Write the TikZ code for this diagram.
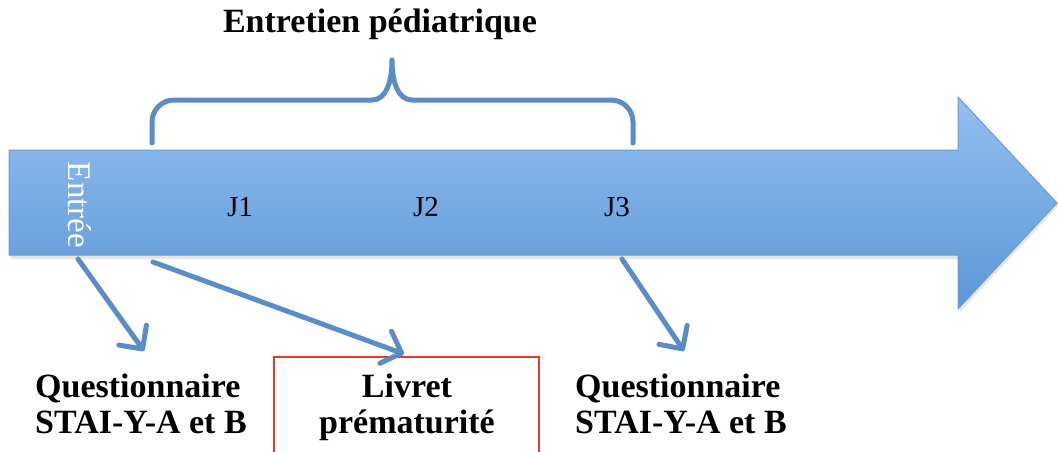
\documentclass[tikz,border=0pt]{standalone}
\usepackage{fontspec}
\setmainfont{Liberation Serif}
\usetikzlibrary{arrows.meta}
\definecolor{bluetop}{RGB}{148,191,241}
\definecolor{bluebot}{RGB}{92,151,215}
\definecolor{blueedge}{RGB}{110,155,208}
\definecolor{blueline}{RGB}{90,141,199}
\definecolor{redbox}{RGB}{232,58,37}
\tikzset{
  lbl/.style={inner sep=0pt, font=\fontsize{34}{38}\selectfont\bfseries},
  day/.style={inner sep=0pt, font=\fontsize{29}{32}\selectfont},
  conn/.style={draw=blueline, line width=5pt, line cap=round,
    -{Straight Barb[length=17pt,width=34pt,line cap=round,round]}},
  bracket/.style={draw=blueline, line width=5pt, line cap=round, line join=round},
}
\begin{document}
\begin{tikzpicture}[x=1pt,y=-1pt]
\useasboundingbox (0,0) rectangle (1058,452);
% shadow
\fill[black, opacity=0.10] (11,153) -- (960,153) -- (960,100) -- (1058,206) -- (960,312) -- (960,259) -- (11,259) -- cycle;
% timeline arrow
\path[draw=blueedge, line width=1pt, top color=bluetop, bottom color=bluebot]
  (9,150) -- (958,150) -- (958,97) -- (1057,203) -- (958,309) -- (958,255) -- (9,255) -- cycle;
% bracket
\draw[bracket] (152,143) -- (152,122) arc[start angle=180, end angle=270, radius=22] -- (372,100)
  .. controls (386,100) and (392,82) .. (392,60)
  .. controls (392,82) and (398,100) .. (412,100) -- (611,100)
  arc[start angle=270, end angle=360, radius=22] -- (633,143);
% texts
\node[lbl, anchor=base] (title) at (380,33) {Entretien pédiatrique};
\node[inner sep=0pt, font=\fontsize{33}{36}\selectfont, text=white, rotate=-90] (entree) at (80,205) {Entrée};
\node[day, anchor=base] (j1) at (240,216) {J1};
\node[day, anchor=base] (j2) at (426,216) {J2};
\node[day, anchor=base] (j3) at (617,216) {J3};
\node[lbl, anchor=base west] (q1a) at (35,397) {Questionnaire};
\node[lbl, anchor=base west] (q1b) at (35,433) {STAI-Y-A et B};
\node[lbl, anchor=base] (l1) at (407,397) {Livret};
\node[lbl, anchor=base] (l2) at (407,433) {prématurité};
\node[lbl, anchor=base west] (q2a) at (575,397) {Questionnaire};
\node[lbl, anchor=base west] (q2b) at (575,433) {STAI-Y-A et B};
% red box
\draw[redbox, line width=1.6pt] (274,460) -- (274,357) -- (539,357) -- (539,460);
% connectors
\coordinate (s1) at (78,259);
\coordinate (t1) at (144,351);
\coordinate (s2) at (153,262);
\coordinate (t2) at (404,354);
\coordinate (s3) at (622,259);
\coordinate (t3) at (684,351);
\draw[conn] (s1) -- (t1);
\draw[conn] (s2) -- (t2);
\draw[conn] (s3) -- (t3);
\end{tikzpicture}
\end{document}
